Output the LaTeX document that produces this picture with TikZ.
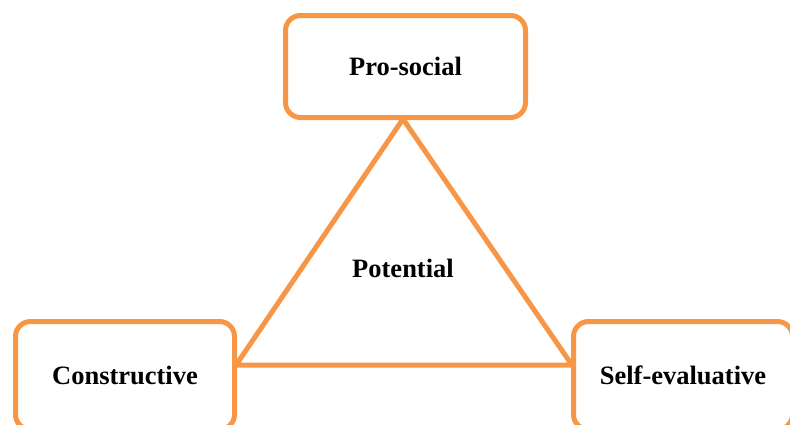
\documentclass[tikz,border=0pt]{standalone}
\usepackage{fontspec}
\setmainfont{Liberation Serif}
\begin{document}
\definecolor{accent}{HTML}{F79646}
\begin{tikzpicture}[x=1pt,y=-1pt,
  facet/.style={draw=accent, line width=5pt, rounded corners=15pt, fill=white,
    inner sep=0pt, font=\fontsize{26.5}{30}\selectfont\bfseries},
  edge/.style={draw=accent, line width=5pt, line join=round}]
  \useasboundingbox (0,0) rectangle (790,424);
  % three facets
  \node[facet, minimum width=240pt, minimum height=102pt] (pro) at (405.5,66.5) {Pro-social};
  \node[facet, minimum width=219pt, minimum height=108pt] (con) at (125,375.5) {Constructive};
  \node[facet, minimum width=219pt, minimum height=108pt] (self) at (683,375.5) {Self-evaluative};
  % triangle joining the facets
  \coordinate (cl) at (236,365);
  \coordinate (cr) at (572,365);
  \coordinate (apex) at (403,119);
  \draw[edge] (apex) -- (cl) -- (cr) -- cycle;
  \node[font=\fontsize{26.5}{30}\selectfont\bfseries] (pot) at (403,268) {Potential};
\end{tikzpicture}
\end{document}
